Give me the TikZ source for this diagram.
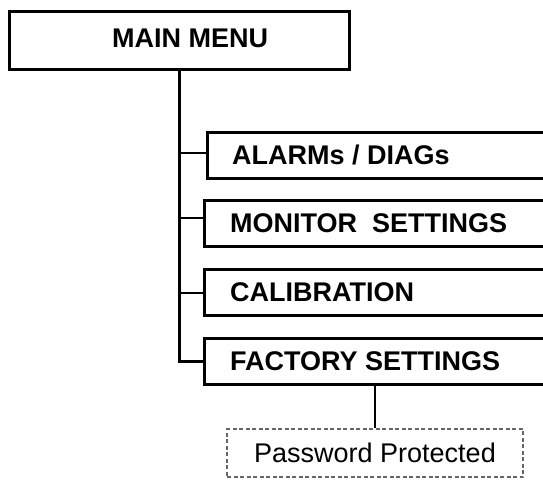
\documentclass[tikz,border=0pt]{standalone}
\usepackage{fontspec}
\setmainfont{Liberation Sans}
\begin{document}
\begin{tikzpicture}[x=1pt,y=-1pt,
  menubox/.style={draw, line width=2.6pt, anchor=north west, minimum width=400pt, minimum height=46pt, inner sep=0pt},
  lbl/.style={anchor=west, font=\fontsize{27}{31}\selectfont\bfseries, inner sep=0pt},
  conn/.style={line width=2.6pt},
  pwbox/.style={draw=black!60, dashed, dash pattern=on 4pt off 2.5pt, line width=1.6pt, minimum width=296pt, minimum height=48pt, inner sep=0pt, font=\fontsize{27}{31}\selectfont}]
\useasboundingbox (0,0) rectangle (543,479);
\clip (0,0) rectangle (543,479);
\node[draw, line width=2.6pt, anchor=north west, minimum width=340pt, minimum height=58pt, inner sep=0pt] (main) at (8,10) {};
\node[lbl] (maint) at (112,38) {MAIN MENU};
\node[menubox] (alarms) at (206,131) {};
\node[lbl] at (232,155) {ALARMs / DIAGs};
\node[menubox] (monitor) at (203,199) {};
\node[lbl] at (230,223) {MONITOR\ \ SETTINGS};
\node[menubox] (calib) at (203,268) {};
\node[lbl] at (230,292) {CALIBRATION};
\node[menubox] (factory) at (203,337) {};
\node[lbl] at (230,361) {FACTORY SETTINGS};
\coordinate (fdrop) at (375,383);
\node[pwbox] (pw) at (375,453) {Password Protected};
\draw[conn] (main.south) |- (factory.west);
\draw[conn] (main.south |- 0,153) -- (alarms.west |- 0,153);
\draw[conn] (main.south |- 0,218) -- (monitor.west |- 0,218);
\draw[conn] (main.south |- 0,293) -- (calib.west |- 0,293);
\draw[conn] (fdrop) -- (pw.north);
\end{tikzpicture}
\end{document}
